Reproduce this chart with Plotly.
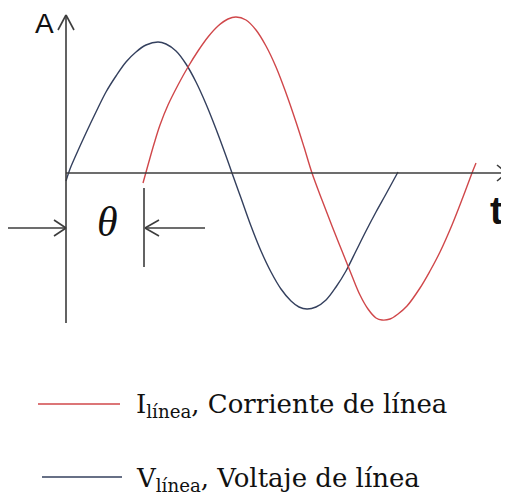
import plotly.graph_objects as go

# Values (t: horizontal offset from origin, A: amplitude), same units on both axes
v_t = [0, 4, 10, 20, 30, 40, 50, 60, 70, 80, 92, 100, 110, 120, 130, 140, 150, 160, 166,
       175, 185, 195, 205, 215, 225, 233, 241, 250, 260, 270, 280, 290, 300, 310, 320, 332]
v_a = [-8, 4, 18, 40, 61, 81, 97, 111, 121, 128, 131, 129, 122, 109, 91, 69, 44, 17, 0,
       -25, -53, -78, -99, -116, -128, -134, -136, -134, -127, -114, -98, -78, -58, -39, -21, 1]

i_t = [77, 82, 88, 94, 102, 112, 122, 132, 142, 152, 162, 170, 180, 190, 200, 210, 220, 230, 238, 246,
       256, 266, 276, 286, 294, 302, 310, 316, 324, 332, 341, 354, 364, 374, 386, 397, 406, 410]
i_a = [-10, 8, 29, 48, 68, 88, 106, 122, 136, 147, 154, 156, 153, 143, 127, 106, 80, 51, 26, 0,
       -27, -53, -78, -103, -122, -136, -145, -147, -146, -141, -133, -115, -98, -79, -52, -24, 0, 10]

legend_labels = ["I<sub>línea</sub>, Corriente de línea", "V<sub>línea</sub>, Voltaje de línea"]
axis_labels = ["A", "t"]
angle_label = "θ"

red = "#d0474a"
blue = "#34405e"
axc = "#3c3c3c"

fig = go.Figure()
fig.add_trace(go.Scatter(x=v_t, y=v_a, mode="lines", line=dict(color=blue, width=1.4, shape="spline", smoothing=1.0), hoverinfo="skip"))
fig.add_trace(go.Scatter(x=i_t, y=i_a, mode="lines", line=dict(color=red, width=1.4, shape="spline", smoothing=1.0), hoverinfo="skip"))

def seg(x0, y0, x1, y1, color=axc, w=1.6):
    fig.add_shape(type="line", x0=x0, y0=y0, x1=x1, y1=y1, xref="x", yref="y", line=dict(color=color, width=w))

# axes
seg(0, 158, 0, -150)
seg(-8, 143, 0, 158); seg(8, 143, 0, 158)
seg(0, 0, 441, 0)
seg(431, 8, 441, 0); seg(431, -8, 441, 0)

# theta marker
seg(-58, -55, 0, -55)
seg(-12, -47, 0, -55); seg(-12, -63, 0, -55)
seg(78, -15, 78, -94)
seg(139, -55, 79, -55)
seg(79, -55, 93, -47); seg(79, -55, 93, -63)

# legend
seg(-28, -231, 54, -231, color=red, w=1.4)
seg(-24, -304, 56, -304, color=blue, w=1.4)

fig.add_annotation(x=68, y=-232, text=legend_labels[0], showarrow=False, xanchor="left", yanchor="middle",
                   font=dict(family="DejaVu Serif", size=26, color="#111"))
fig.add_annotation(x=68, y=-306, text=legend_labels[1], showarrow=False, xanchor="left", yanchor="middle",
                   font=dict(family="DejaVu Serif", size=26, color="#111"))

fig.add_annotation(x=-22, y=150, text=axis_labels[0], showarrow=False, font=dict(family="Liberation Sans", size=28, color="#111"))
fig.add_annotation(x=430, y=-38, text="<b>" + axis_labels[1] + "</b>", showarrow=False, font=dict(family="Liberation Sans", size=38, color="#111"))
fig.add_annotation(x=41, y=-49, text="<i>" + angle_label + "</i>", showarrow=False, font=dict(family="Liberation Serif", size=42, color="#111"))

# page body has an 8px margin: size the figure so the drawing lands on the reference pixels
fig.update_layout(width=501, height=489, margin=dict(l=0, r=0, t=0, b=0), showlegend=False,
                  plot_bgcolor="white", paper_bgcolor="white")
fig.update_xaxes(range=[-58, 443], visible=False, fixedrange=True)
fig.update_yaxes(range=[-324, 165], visible=False, fixedrange=True)
fig.write_html("out.html")
